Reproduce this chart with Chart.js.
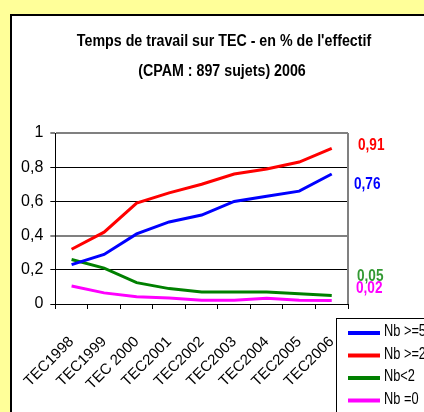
<!DOCTYPE html>
<html>
<head>
<meta charset="utf-8">
<script src="https://cdn.jsdelivr.net/npm/chart.js@4/dist/chart.umd.min.js"></script>
<style>
html,body{margin:0;padding:0;background:#FFFF99;}
#wrap{position:relative;width:424px;height:412px;}
canvas{display:block;}
</style>
</head>
<body>
<div id="wrap"><canvas id="c" width="424" height="412"></canvas></div>
<script>
const categories = ['TEC1998','TEC1999','TEC 2000','TEC2001','TEC2002','TEC2003','TEC2004','TEC2005','TEC2006'];
const seriesNames = ['Nb >=5','Nb >=2','Nb<2','Nb =0'];
const nb5 = [0.23,0.29,0.41,0.48,0.52,0.60,0.63,0.66,0.76];
const nb2 = [0.32,0.42,0.59,0.65,0.70,0.76,0.79,0.83,0.91];
const nbLt2 = [0.26,0.21,0.125,0.09,0.07,0.07,0.07,0.06,0.05];
const nb0 = [0.105,0.065,0.043,0.035,0.022,0.022,0.033,0.022,0.02];
const yTicks = [0,0.2,0.4,0.6,0.8,1];
const titleLines = ["Temps de travail sur TEC - en % de l'effectif", "(CPAM : 897 sujets) 2006"];

const lineColors = ['#0000FF','#FF0000','#008000','#FF00FF'];
const labelColors = ['#0000FF','#FF0000','#339933','#FF00FF'];
const FONT = "'Liberation Sans', Arial, sans-serif";

function fmt(v){ return (Math.round(v*100)/100).toString().replace('.', ','); }

function condensed(ctx, text, x, y, sx, align){
  ctx.save();
  ctx.translate(x, y);
  ctx.scale(sx, 1);
  ctx.textAlign = align;
  ctx.textBaseline = 'middle';
  ctx.fillText(text, 0, 0);
  ctx.restore();
}

const bgPlugin = {
  id:'bg',
  beforeDraw(chart){
    const ctx = chart.ctx;
    ctx.save();
    ctx.fillStyle = '#FFFF99';
    ctx.fillRect(0,0,chart.width,chart.height);
    ctx.fillStyle = '#FFFFFF';
    ctx.fillRect(10,14,chart.width,chart.height);
    ctx.strokeStyle = '#000';
    ctx.lineWidth = 2;
    ctx.strokeRect(11,15,chart.width+10,chart.height+10);
    ctx.restore();
  },
  beforeDatasetsDraw(chart){
    const ctx = chart.ctx, a = chart.chartArea;
    ctx.save();
    ctx.strokeStyle = '#808080';
    ctx.lineWidth = 2;
    ctx.beginPath();
    ctx.moveTo(a.right, a.top);
    ctx.lineTo(a.right, a.bottom);
    ctx.stroke();
    ctx.restore();
  },
  afterDraw(chart){
    const ctx = chart.ctx, a = chart.chartArea;
    ctx.save();
    // title
    ctx.fillStyle = '#000';
    ctx.font = 'bold 16px ' + FONT;
    condensed(ctx, titleLines[0], 224, 42, 0.89, 'center');
    condensed(ctx, titleLines[1], 222, 72, 0.89, 'center');
    // end labels
    const offs = [[6,11],[10,-3],[9,-19],[8,-12]];
    ctx.font = 'bold 16px ' + FONT;
    chart.data.datasets.forEach((ds,i)=>{
      const last = ds.data[ds.data.length-1];
      const y = chart.scales.y.getPixelForValue(last) + offs[i][1];
      ctx.fillStyle = labelColors[i];
      condensed(ctx, fmt(last), a.right + offs[i][0], y, 0.85, 'left');
    });
    // legend
    ctx.fillStyle = '#fff';
    ctx.fillRect(336.5,318.5,200,200);
    ctx.strokeStyle = '#000';
    ctx.lineWidth = 1;
    ctx.strokeRect(336.5,318.5,200,200);
    const rows = [333,355.5,378,400.5];
    ctx.font = '16px ' + FONT;
    chart.data.datasets.forEach((ds,i)=>{
      ctx.strokeStyle = ds.borderColor;
      ctx.lineWidth = 4;
      ctx.beginPath();
      ctx.moveTo(348, rows[i]);
      ctx.lineTo(380, rows[i]);
      ctx.stroke();
      ctx.fillStyle = '#000';
      condensed(ctx, ds.label, 384, rows[i]-1, 0.8, 'left');
    });
    ctx.restore();
  }
};

const allSeries = [nb5, nb2, nbLt2, nb0];
new Chart(document.getElementById('c'), {
  type:'line',
  data:{
    labels: categories,
    datasets: allSeries.map((d,i)=>({
      label: seriesNames[i],
      data: d,
      borderColor: lineColors[i],
      backgroundColor: lineColors[i],
      borderWidth: 3,
      pointRadius: 0,
      tension: 0,
      fill: false
    }))
  },
  options:{
    responsive:false,
    animation:false,
    layout:{padding:{left:0,right:76,top:133,bottom:0}},
    plugins:{legend:{display:false}, title:{display:false}, tooltip:{enabled:false}},
    scales:{
      x:{
        offset:true,
        grid:{offset:true, drawOnChartArea:false, drawTicks:true, tickLength:5, color:'#000'},
        border:{color:'#000', width:1},
        ticks:{maxRotation:45, minRotation:45, autoSkip:false, padding:24, color:'#000', font:{family:FONT, size:15}},
        afterFit(s){ s.height = 108; }
      },
      y:{
        min:0, max:1,
        afterBuildTicks(s){ s.ticks = yTicks.map(v=>({value:v})); },
        grid:{
          tickLength:5,
          color:(c)=> (c.tick && (Math.abs(c.tick.value-0.4)<1e-6 || Math.abs(c.tick.value-1)<1e-6)) ? '#808080' : '#000',
          lineWidth:(c)=> (c.tick && (Math.abs(c.tick.value-0.4)<1e-6 || Math.abs(c.tick.value-1)<1e-6)) ? 2 : 1
        },
        border:{color:'#000', width:1},
        ticks:{padding:7, color:'#000', font:{family:FONT, size:16}, callback:(v)=>fmt(v)},
        afterFit(s){ s.width = 50; }
      }
    }
  },
  plugins:[bgPlugin]
});
</script>
</body>
</html>
